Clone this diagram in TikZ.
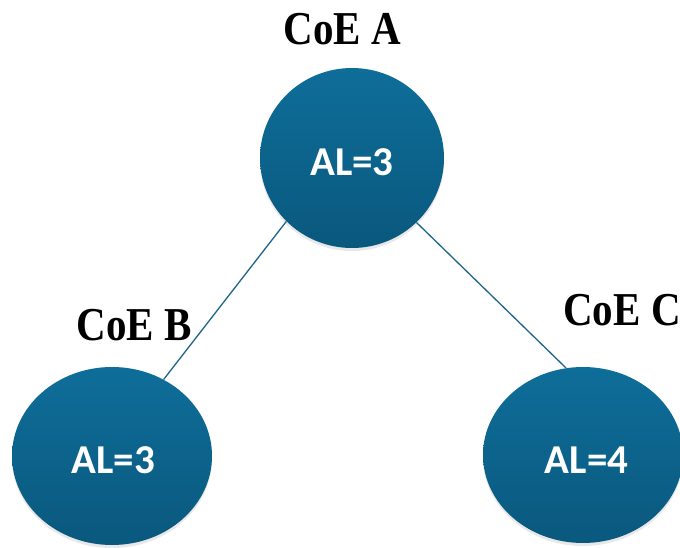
\documentclass[tikz,border=0pt]{standalone}
\usepackage{fontspec}
\usetikzlibrary{shapes.geometric,shadows}
\newfontfamily\lblfont{Liberation Serif}[BoldFont={Liberation Serif Bold}]
\newfontfamily\alfont{Carlito}[BoldFont={Carlito Bold}]
\definecolor{circtop}{RGB}{14,110,153}
\definecolor{circbot}{RGB}{10,88,126}
\definecolor{linkcol}{RGB}{30,100,135}
\tikzset{
  coe/.style={ellipse, inner sep=0pt, draw=none, top color=circtop, bottom color=circbot,
    drop shadow={opacity=0.18, shadow xshift=0pt, shadow yshift=-3pt}},
  altext/.style={text=white, font=\alfont\bfseries\fontsize{41}{45}\selectfont, inner sep=0pt},
  coelabel/.style={anchor=base, inner sep=0pt, font=\lblfont\bfseries\fontsize{41}{45}\selectfont},
  link/.style={draw=linkcol, line width=1.3pt}
}
\begin{document}
\begin{tikzpicture}[x=1pt,y=-1pt]
\useasboundingbox (0,0) rectangle (680,548);
% circles
\node[coe, minimum width=184pt, minimum height=180pt] (A) at (352,158) {};
\node[coe, minimum width=200pt, minimum height=178pt] (B) at (112,456) {};
\node[coe, minimum width=200pt, minimum height=176pt] (C) at (583,455) {};
% connectors
\draw[link] (A.224) -- (B.56);
\draw[link] (A.-45) -- (C.101);
% inner texts
\node[altext] (tA) at (352,162.5) {AL=3};
\node[altext] (tB) at (113.5,460.5) {AL=3};
\node[altext] (tC) at (586.5,460.5) {AL=4};
% labels
\node[coelabel] (lA) at (342.5,45) {\scalebox{1}[1.15]{CoE A}};
\node[coelabel] (lB) at (134,340) {\scalebox{1}[1.15]{CoE B}};
\node[coelabel] (lC) at (622,325) {\scalebox{1}[1.15]{CoE C}};
\end{tikzpicture}
\end{document}
